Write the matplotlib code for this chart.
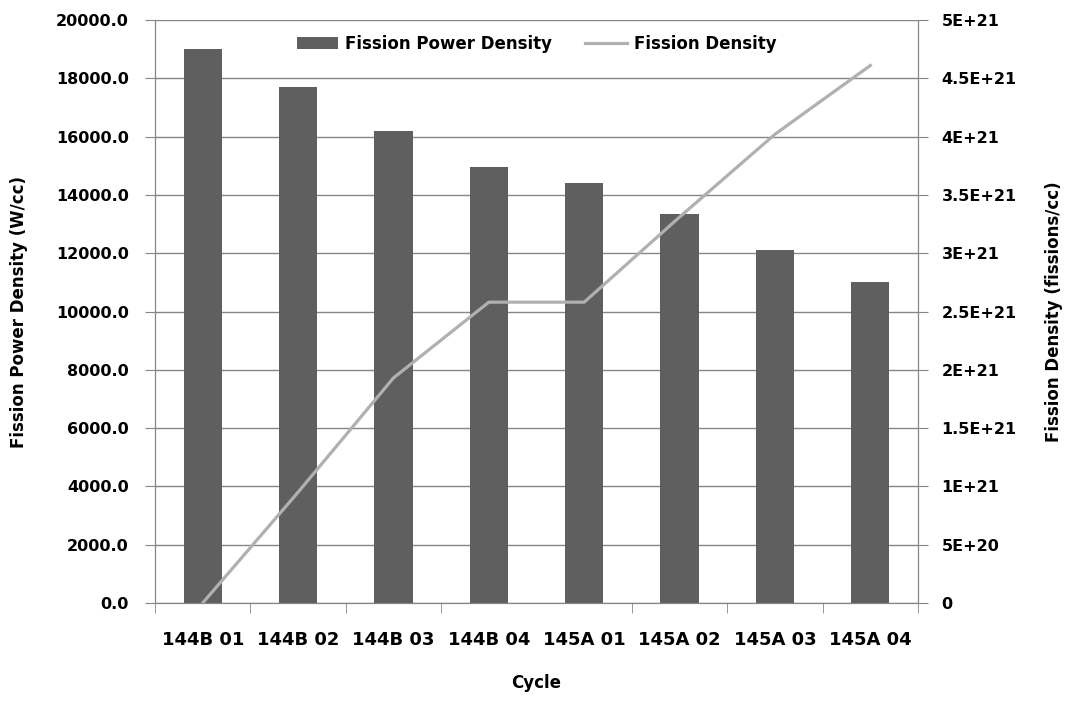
import matplotlib
matplotlib.use("Agg")
import matplotlib.pyplot as plt
import numpy as np
from matplotlib.ticker import FixedLocator, FuncFormatter

cycles = ["144B 01", "144B 02", "144B 03", "144B 04", "145A 01", "145A 02", "145A 03", "145A 04"]
power_density = [19000, 17700, 16200, 14950, 14400, 13330, 12100, 11000]
fission_density = [0.0, 0.95e21, 1.93e21, 2.58e21, 2.58e21, 3.31e21, 4.02e21, 4.61e21]
left_ticks = [0, 2000, 4000, 6000, 8000, 10000, 12000, 14000, 16000, 18000, 20000]
right_ticks = [0, 5e20, 1e21, 1.5e21, 2e21, 2.5e21, 3e21, 3.5e21, 4e21, 4.5e21, 5e21]
right_labels = ["0", "5E+20", "1E+21", "1.5E+21", "2E+21", "2.5E+21", "3E+21", "3.5E+21", "4E+21", "4.5E+21", "5E+21"]

bar_color = "#5f5f5f"
line_color = "#b0b0b0"
axis_color = "#868686"
FONT = "DejaVu Sans"

fig = plt.figure(figsize=(10.7, 7.04), dpi=100)
ax = fig.add_axes([155/1070, 1-603/704, (918-155)/1070, (603-20)/704])
ax2 = ax.twinx()

x = np.arange(len(cycles))
b = ax.bar(x, power_density, width=0.4, color=bar_color, zorder=3, label="Fission Power Density")
l, = ax2.plot(x, fission_density, color=line_color, lw=2.3, zorder=4, label="Fission Density")

ax.set_xlim(-0.5, len(cycles) - 0.5)
ax.set_ylim(0, 20000)
ax2.set_ylim(0, 5e21)

ax.set_yticks(left_ticks)
ax.yaxis.set_major_formatter(FuncFormatter(lambda v, p: f"{v:.1f}"))
ax2.set_yticks(right_ticks)
ax2.set_yticklabels(right_labels)

ax.grid(axis="y", color=axis_color, lw=1.0, zorder=0)
ax.set_axisbelow(True)

ax.set_xticks(x)
ax.set_xticklabels(cycles)
ax.tick_params(axis="x", which="major", length=0, pad=20)
boundaries = [-0.5, 0.5, 1.5, 2.5, 4.5, 5.5, 6.5, 7.5]
ax.xaxis.set_minor_locator(FixedLocator(boundaries))
ax.tick_params(axis="x", which="minor", length=7, color=axis_color, direction="out")

for a in (ax, ax2):
    a.spines["top"].set_visible(False)
    for s in ("left", "right", "bottom"):
        a.spines[s].set_color(axis_color)
ax.tick_params(axis="y", length=7, color=axis_color, pad=12)
ax2.tick_params(axis="y", length=7, color=axis_color, pad=10)

for lab in ax.get_yticklabels() + ax2.get_yticklabels():
    lab.set_fontfamily(FONT)
    lab.set_fontweight("bold")
    lab.set_fontsize(11.5)
for lab in ax.get_xticklabels():
    lab.set_fontfamily(FONT)
    lab.set_fontweight("bold")
    lab.set_fontsize(13)

ax.set_xlabel("Cycle", fontfamily=FONT, fontweight="bold", fontsize=12, labelpad=18)
ax.set_ylabel("Fission Power Density (W/cc)", fontfamily=FONT, fontweight="bold", fontsize=12, labelpad=20)
ax2.set_ylabel("Fission Density (fissions/cc)", fontfamily=FONT, fontweight="bold", fontsize=12, labelpad=20)

leg = ax2.legend([b, l], ["Fission Power Density", "Fission Density"], loc="upper center",
                 bbox_to_anchor=(0.5, 1.0), ncol=2, frameon=False,
                 prop={"family": FONT, "weight": "bold", "size": 12},
                 handlelength=2.5, columnspacing=2.0, handletextpad=0.4)

fig.savefig("out.png", dpi=100)
